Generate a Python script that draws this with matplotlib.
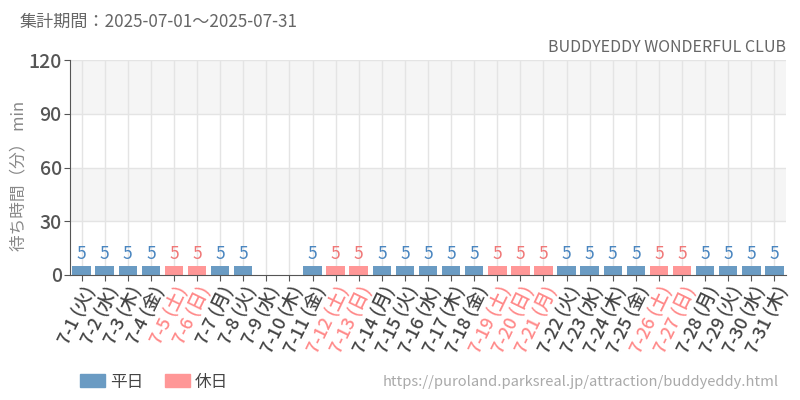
import matplotlib.pyplot as plt
from matplotlib.patches import Patch

plt.rcParams['font.family'] = ['Noto Sans CJK JP', 'DejaVu Sans']

# data
days = [f"7-{d}" for d in range(1, 32)]
weekdays = ['火', '水', '木', '金', '土', '日', '月'] * 5
weekdays = weekdays[:31]
holidays = ['7-5', '7-6', '7-12', '7-13', '7-19', '7-20', '7-21', '7-26', '7-27']
wait_min = [5, 5, 5, 5, 5, 5, 5, 5, None, None, 5, 5, 5, 5, 5, 5, 5, 5, 5, 5,
            5, 5, 5, 5, 5, 5, 5, 5, 5, 5, 5]
y_ticks = [0, 30, 60, 90, 120]

BLUE = '#6a9bc3'
PINK = '#ff9797'
BLUE_TXT = '#4a86c0'
PINK_TXT = '#f07878'
HOL_TICK = '#ff8a8a'

fig = plt.figure(figsize=(8, 4), dpi=100)
ax = fig.add_axes([0.0875, 0.3125, 0.895, 0.5375])

# alternating background bands
for i, (lo, hi) in enumerate(zip(y_ticks[:-1], y_ticks[1:])):
    if i % 2 == 1:
        ax.axhspan(lo, hi, color='#f5f5f5', zorder=0, lw=0)

x = list(range(len(days)))
for xi, day, v in zip(x, days, wait_min):
    ax.axvline(xi, color='#e4e4e4', lw=1, zorder=1)
    if v is None:
        continue
    hol = day in holidays
    ax.bar(xi, v, width=0.8, color=PINK if hol else BLUE, zorder=2)
    ax.text(xi, v + 1.5, str(v), ha='center', va='bottom', fontsize=12.5,
            color=PINK_TXT if hol else BLUE_TXT, zorder=3)

for yt in y_ticks[1:]:
    ax.axhline(yt, color='#e4e4e4', lw=1, zorder=1)

ax.set_xlim(-0.5, len(days) - 0.5)
ax.set_ylim(0, 120)
ax.set_yticks(y_ticks)
ax.set_yticklabels([str(t) for t in y_ticks], fontsize=14, color='#444444', fontweight='medium')
ax.set_xticks(x)
labels = [f"{d} ({w})" for d, w in zip(days, weekdays)]
ax.set_xticklabels(labels, rotation=64, ha='right', rotation_mode='anchor', fontsize=13,
                   fontweight='medium')

for s in ['top', 'right']:
    ax.spines[s].set_visible(False)
ax.spines['left'].set_color('#555555')
ax.spines['bottom'].set_color('#555555')
ax.tick_params(axis='both', colors='#555555', length=4, pad=2)
for lbl, day in zip(ax.get_xticklabels(), days):
    lbl.set_color(HOL_TICK if day in holidays else '#444444')

ax.set_ylabel('待ち時間（分） min', fontsize=12, color='#888888', va='center')
ax.yaxis.set_label_coords(-0.072, 0.46)

fig.text(0.025, 0.945, '集計期間：2025-07-01～2025-07-31', fontsize=12.3, color='#666666', va='center')
fig.text(0.983, 0.88, 'BUDDYEDDY WONDERFUL CLUB', fontsize=11.5, color='#666666', ha='right', va='center')
fig.text(0.974, 0.045, 'https://puroland.parksreal.jp/attraction/buddyeddy.html', fontsize=10.6,
         color='#aaaaaa', ha='right', va='center')

handles = [Patch(color=BLUE, label='平日'), Patch(color=PINK, label='休日')]
fig.legend(handles=handles, loc='center left', bbox_to_anchor=(0.1, 0.045), ncol=2, frameon=False,
           fontsize=12, handlelength=1.5, handleheight=0.8, handletextpad=0.3, columnspacing=1.3,
           borderpad=0, borderaxespad=0, labelcolor='#444444')

fig.savefig('out.png', dpi=100)
